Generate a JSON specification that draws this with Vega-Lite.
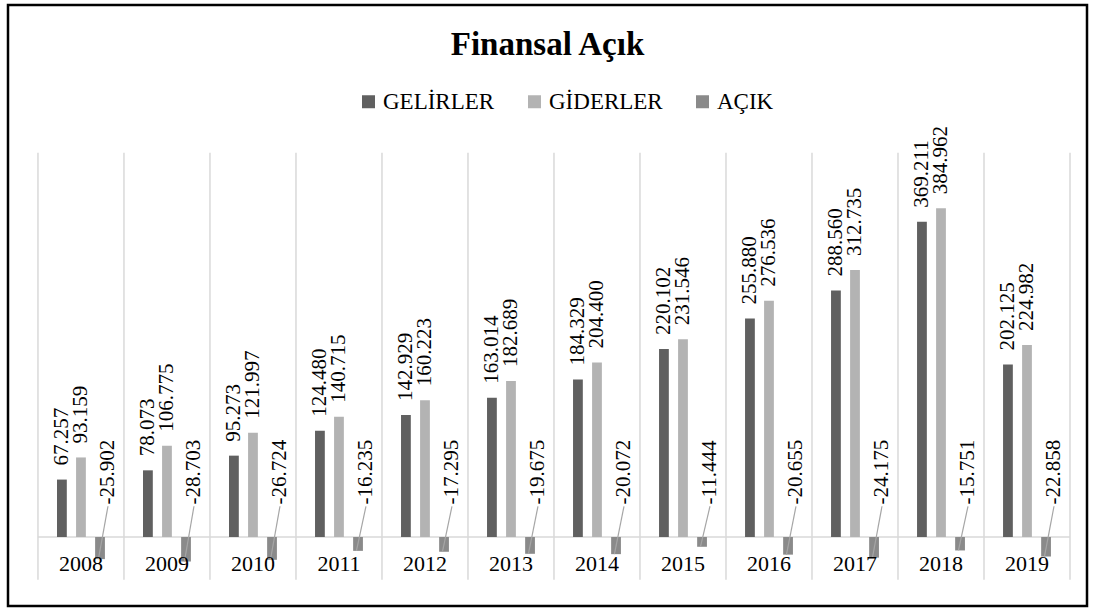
{
  "$schema": "https://vega.github.io/schema/vega-lite/v6.json",
  "autosize": {"type": "none"},
  "padding": {"left": 8, "top": 5, "right": 7, "bottom": 4},
  "width": 1079,
  "height": 601,
  "background": "white",
  "config": {
    "view": {"stroke": "#000000", "strokeWidth": 2.5},
    "font": "Liberation Serif",
    "legend": {"labelFont": "Times New Roman, Liberation Serif, serif", "labelFontSize": 23},
    "locale": {"number": {"decimal": ".", "thousands": ",", "grouping": [3], "currency": ["", ""], "minus": "-"}}
  },
  "title": {"text": "Finansal Açık", "font": "Liberation Serif", "fontSize": 33, "fontWeight": "bold", "color": "#000000", "anchor": "middle", "frame": "group", "offset": -57},
  "data": {"values": [
    {"year": "2008", "series": "GELİRLER", "value": 67.257},
    {"year": "2008", "series": "GİDERLER", "value": 93.159},
    {"year": "2008", "series": "AÇIK", "value": -25.902},
    {"year": "2009", "series": "GELİRLER", "value": 78.073},
    {"year": "2009", "series": "GİDERLER", "value": 106.775},
    {"year": "2009", "series": "AÇIK", "value": -28.703},
    {"year": "2010", "series": "GELİRLER", "value": 95.273},
    {"year": "2010", "series": "GİDERLER", "value": 121.997},
    {"year": "2010", "series": "AÇIK", "value": -26.724},
    {"year": "2011", "series": "GELİRLER", "value": 124.480},
    {"year": "2011", "series": "GİDERLER", "value": 140.715},
    {"year": "2011", "series": "AÇIK", "value": -16.235},
    {"year": "2012", "series": "GELİRLER", "value": 142.929},
    {"year": "2012", "series": "GİDERLER", "value": 160.223},
    {"year": "2012", "series": "AÇIK", "value": -17.295},
    {"year": "2013", "series": "GELİRLER", "value": 163.014},
    {"year": "2013", "series": "GİDERLER", "value": 182.689},
    {"year": "2013", "series": "AÇIK", "value": -19.675},
    {"year": "2014", "series": "GELİRLER", "value": 184.329},
    {"year": "2014", "series": "GİDERLER", "value": 204.400},
    {"year": "2014", "series": "AÇIK", "value": -20.072},
    {"year": "2015", "series": "GELİRLER", "value": 220.102},
    {"year": "2015", "series": "GİDERLER", "value": 231.546},
    {"year": "2015", "series": "AÇIK", "value": -11.444},
    {"year": "2016", "series": "GELİRLER", "value": 255.880},
    {"year": "2016", "series": "GİDERLER", "value": 276.536},
    {"year": "2016", "series": "AÇIK", "value": -20.655},
    {"year": "2017", "series": "GELİRLER", "value": 288.560},
    {"year": "2017", "series": "GİDERLER", "value": 312.735},
    {"year": "2017", "series": "AÇIK", "value": -24.175},
    {"year": "2018", "series": "GELİRLER", "value": 369.211},
    {"year": "2018", "series": "GİDERLER", "value": 384.962},
    {"year": "2018", "series": "AÇIK", "value": -15.751},
    {"year": "2019", "series": "GELİRLER", "value": 202.125},
    {"year": "2019", "series": "GİDERLER", "value": 224.982},
    {"year": "2019", "series": "AÇIK", "value": -22.858}
  ]},
  "layer": [
    {
      "transform": [{"filter": "datum.series === 'AÇIK'"}],
      "mark": {"type": "rule", "color": "#d9d9d9", "strokeWidth": 1.5},
      "encoding": {
        "x": {"field": "year", "type": "nominal", "bandPosition": 0, "axis": null, "scale": {"type": "band", "paddingInner": 0, "paddingOuter": 0.273, "align": 0.638}},
        "y": {"datum": -50, "type": "quantitative", "axis": null, "scale": {"domain": [-80.8, 623], "nice": false, "zero": false}},
        "y2": {"datum": 450}
      }
    },
    {
      "transform": [{"filter": "datum.year === '2019' && datum.series === 'AÇIK'"}],
      "mark": {"type": "rule", "color": "#d9d9d9", "strokeWidth": 1.5},
      "encoding": {
        "x": {"field": "year", "type": "nominal", "bandPosition": 1, "axis": null},
        "y": {"datum": -50, "type": "quantitative", "axis": null},
        "y2": {"datum": 450}
      }
    },
    {
      "transform": [{"filter": "datum.series === 'AÇIK'"}],
      "mark": {"type": "rule", "color": "#d9d9d9", "strokeWidth": 1.5},
      "encoding": {
        "x": {"field": "year", "type": "nominal", "bandPosition": 0, "axis": null},
        "x2": {"field": "year", "bandPosition": 1},
        "y": {"datum": 0, "type": "quantitative", "axis": null}
      }
    },
    {
      "mark": {"type": "bar"},
      "encoding": {
        "x": {"field": "year", "type": "nominal", "axis": null},
        "xOffset": {"field": "series", "type": "nominal", "sort": ["GELİRLER", "GİDERLER", "AÇIK"], "scale": {"domain": ["GELİRLER", "GİDERLER", "AÇIK"], "paddingInner": 0.486, "paddingOuter": 1.2}},
        "y": {"field": "value", "type": "quantitative", "axis": null},
        "color": {"field": "series", "type": "nominal",
          "scale": {"domain": ["GELİRLER", "GİDERLER", "AÇIK"], "range": ["#606060", "#b3b3b3", "#8a8a8a"]},
          "legend": {"title": null, "orient": "none", "legendX": 349, "legendY": 85, "direction": "horizontal", "symbolType": "square", "symbolSize": 169, "symbolStrokeWidth": 0, "labelFont": "Times New Roman, Liberation Serif, serif", "labelFontSize": 23, "labelColor": "#000000", "labelOffset": 3, "columnPadding": 28, "padding": 0, "labelLimit": 300}}
      }
    },
    {
      "transform": [{"filter": "datum.series === 'AÇIK'"}],
      "mark": {"type": "rule", "color": "#a6a6a6", "strokeWidth": 1.2},
      "encoding": {
        "x": {"field": "year", "type": "nominal", "bandPosition": 0.703, "axis": null},
        "x2": {"field": "year", "bandPosition": 0.814},
        "y": {"field": "value", "type": "quantitative", "axis": null},
        "y2": {"datum": 36}
      }
    },
    {
      "transform": [{"filter": "datum.series !== 'AÇIK'"}],
      "mark": {"type": "text", "angle": 270, "align": "left", "baseline": "middle", "dx": 14, "fontSize": 21, "font": "Times New Roman, Liberation Serif, serif", "color": "#000000"},
      "encoding": {
        "x": {"field": "year", "type": "nominal", "axis": null},
        "xOffset": {"field": "series", "type": "nominal", "sort": ["GELİRLER", "GİDERLER", "AÇIK"]},
        "y": {"field": "value", "type": "quantitative", "axis": null},
        "text": {"field": "value", "type": "quantitative", "format": ".3f"}
      }
    },
    {
      "transform": [{"filter": "datum.series === 'AÇIK'"}],
      "mark": {"type": "text", "angle": 270, "align": "left", "baseline": "middle", "fontSize": 21, "font": "Times New Roman, Liberation Serif, serif", "color": "#000000"},
      "encoding": {
        "x": {"field": "year", "type": "nominal", "bandPosition": 0.814, "axis": null},
        "y": {"datum": 38, "type": "quantitative", "axis": null},
        "text": {"field": "value", "type": "quantitative", "format": ".3f"}
      }
    },
    {
      "transform": [{"filter": "datum.series === 'AÇIK'"}],
      "mark": {"type": "text", "align": "center", "baseline": "alphabetic", "dy": 34, "fontSize": 22, "font": "Liberation Serif", "color": "#000000"},
      "encoding": {
        "x": {"field": "year", "type": "nominal", "axis": null},
        "y": {"datum": 0, "type": "quantitative", "axis": null},
        "text": {"field": "year", "type": "nominal"}
      }
    }
  ]
}
